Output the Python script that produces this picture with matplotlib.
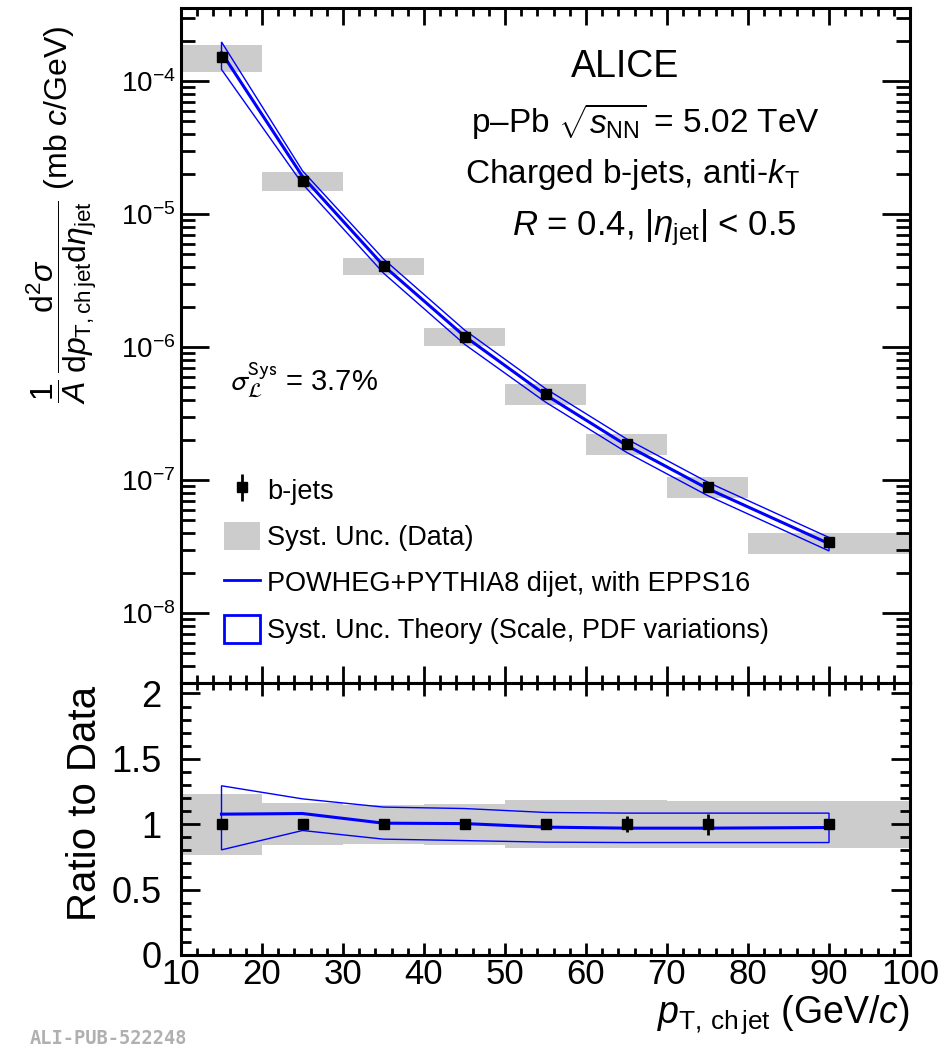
import numpy as np
import matplotlib
matplotlib.use('Agg')
import matplotlib.pyplot as plt
from matplotlib.patches import Patch
from matplotlib.lines import Line2D
from matplotlib.ticker import MultipleLocator, LogLocator, NullFormatter, FuncFormatter

plt.rcParams['font.family'] = ['Liberation Sans', 'DejaVu Sans']
plt.rcParams['mathtext.fontset'] = 'custom'
plt.rcParams['mathtext.rm'] = 'Liberation Sans'
plt.rcParams['mathtext.it'] = 'Liberation Sans:italic'
plt.rcParams['mathtext.bf'] = 'Liberation Sans:bold'

# b-jet spectrum, p-Pb 5.02 TeV
pt_edges = [10, 20, 30, 40, 50, 60, 70, 80, 100]
pt = [15, 25, 35, 45, 55, 65, 75, 90]
xsec = [1.52e-4, 1.77e-5, 4.06e-6, 1.20e-6, 4.47e-7, 1.88e-7, 8.9e-8, 3.41e-8]
stat_rel = [0.02, 0.02, 0.02, 0.025, 0.04, 0.06, 0.08, 0.03]
syst_rel = [0.235, 0.16, 0.15, 0.155, 0.185, 0.185, 0.18, 0.18]

# POWHEG+PYTHIA8 / data
theo_ratio = [1.077, 1.082, 1.008, 1.005, 0.978, 0.970, 0.970, 0.975]
theo_up = [1.294, 1.194, 1.131, 1.120, 1.090, 1.085, 1.085, 1.085]
theo_lo = [0.804, 0.952, 0.886, 0.875, 0.863, 0.860, 0.860, 0.860]

edges = np.array(pt_edges, dtype=float)
widths = np.diff(edges)
x = np.array(pt, dtype=float)
y = np.array(xsec)
stat = y * np.array(stat_rel)
srel = np.array(syst_rel)
th = y * np.array(theo_ratio)
th_up = y * np.array(theo_up)
th_lo = y * np.array(theo_lo)

gray = '#cccccc'
blue = '#0000ff'

fig = plt.figure(figsize=(9.38, 10.5), dpi=100)
ax = fig.add_axes([181/938, 1-683/1050, 729/938, 675/1050])
axr = fig.add_axes([181/938, 1-955/1050, 729/938, 272/1050])

# --- spectrum ---
ax.bar(edges[:-1], 2*srel*y, width=widths, bottom=y*(1-srel), align='edge',
       color=gray, lw=0, zorder=1)
ax.fill(np.concatenate([x, x[::-1]]), np.concatenate([th_up, th_lo[::-1]]),
        fill=False, edgecolor=blue, lw=1, zorder=3)
ax.plot(x, th, color=blue, lw=2.2, zorder=3)
h_data = ax.errorbar(x, y, yerr=stat, fmt='s', color='black', ms=7,
                     elinewidth=2, capsize=0, zorder=4)

ax.set_yscale('log')
ax.set_xlim(10, 100)
ax.set_ylim(2.98e-9, 3.54e-4)
ax.xaxis.set_major_locator(MultipleLocator(10))
ax.xaxis.set_minor_locator(MultipleLocator(2))
ax.yaxis.set_major_locator(LogLocator(base=10, numticks=15))
ax.yaxis.set_minor_locator(LogLocator(base=10, subs=np.arange(2, 10), numticks=30))
ax.yaxis.set_minor_formatter(NullFormatter())
ax.tick_params(which='both', direction='in', top=True, right=True,
               labelbottom=False, width=2)
ax.tick_params(axis='y', which='major', length=20, labelsize=20, pad=4)
ax.tick_params(axis='y', which='minor', length=10)
ax.tick_params(axis='x', which='major', length=12)
ax.tick_params(axis='x', which='minor', length=6)

leg_labels = ['b-jets', 'Syst. Unc. (Data)',
              'POWHEG+PYTHIA8 dijet, with EPPS16',
              'Syst. Unc. Theory (Scale, PDF variations)']
leg_handles = [h_data, Patch(facecolor=gray, lw=0),
               Line2D([], [], color=blue, lw=2),
               Patch(facecolor='none', edgecolor=blue, lw=2)]
ax.legend(leg_handles, leg_labels, loc='upper left', bbox_to_anchor=(0.059, 0.307),
          frameon=False, fontsize=19.5, handlelength=1.33, handleheight=1.22,
          handletextpad=0.26, labelspacing=0.63, borderpad=0, borderaxespad=0)

fs = 24
fig.text(625/938, 1-67/1050, 'ALICE', ha='center', va='center', fontsize=27)
fig.text(646/938, 1-122/1050, r'p–Pb $\sqrt{s_{\mathrm{NN}}}$ = 5.02 TeV',
         ha='center', va='center', fontsize=fs)
fig.text(632/938, 1-175/1050, r'Charged b-jets, anti-$k_{\mathrm{T}}$',
         ha='center', va='center', fontsize=fs)
fig.text(654/938, 1-228/1050, r'$R$ = 0.4, |$\eta_{\mathrm{jet}}$| < 0.5',
         ha='center', va='center', fontsize=fs+1)
fig.text(230/938, 1-380/1050, r'$\sigma_{\mathcal{L}}^{\mathrm{Sys}}$ = 3.7%',
         ha='left', va='center', fontsize=21, math_fontfamily='stixsans')

# --- ratio ---
axr.bar(edges[:-1], 2*srel, width=widths, bottom=1-srel, align='edge',
        color=gray, lw=0, zorder=1)
axr.fill(np.concatenate([x, x[::-1]]),
         np.concatenate([theo_up, theo_lo[::-1]]),
         fill=False, edgecolor=blue, lw=1, zorder=3)
axr.plot(x, theo_ratio, color=blue, lw=2.2, zorder=3)
axr.errorbar(x, np.ones_like(x), yerr=np.array(stat_rel), fmt='s', color='black',
             ms=7, elinewidth=2, capsize=0, zorder=4)

axr.set_xlim(10, 100)
axr.set_ylim(0, 2.08)
axr.xaxis.set_major_locator(MultipleLocator(10))
axr.xaxis.set_minor_locator(MultipleLocator(2))
axr.yaxis.set_major_locator(MultipleLocator(0.5))
axr.yaxis.set_minor_locator(MultipleLocator(0.1))
axr.yaxis.set_major_formatter(FuncFormatter(lambda v, p: '%g' % v))
axr.tick_params(which='both', direction='in', top=True, right=True, width=2)
axr.tick_params(axis='y', which='major', length=14, labelsize=26, pad=14)
axr.tick_params(axis='y', which='minor', length=7)
axr.tick_params(axis='x', which='major', length=9, labelsize=25, pad=2)
axr.tick_params(axis='x', which='minor', length=5)

for a in (ax, axr):
    for s in a.spines.values():
        s.set_linewidth(2.2)

fig.text(62/938, 1-215/1050,
         r'$\dfrac{1}{A}\,\dfrac{\mathrm{d}^2\sigma}{\mathrm{d}p_{\mathrm{T,ch\,jet}}\mathrm{d}\eta_{\mathrm{jet}}}$ (mb $c$/GeV)',
         rotation=90, ha='center', va='center', fontsize=23)
fig.text(85/938, 1-803/1050, 'Ratio to Data', rotation=90,
         ha='center', va='center', fontsize=29)
fig.text(910/938, 1-1015/1050, r'$p_{\mathrm{T,\,ch\,jet}}$ (GeV/$c$)',
         ha='right', va='center', fontsize=27)
fig.text(30/938, 1-1038/1050, 'ALI-PUB-522248', family='DejaVu Sans Mono',
         weight='bold', color='#b0b0b0', fontsize=13.5, va='center')

fig.savefig('out.png', dpi=100)
